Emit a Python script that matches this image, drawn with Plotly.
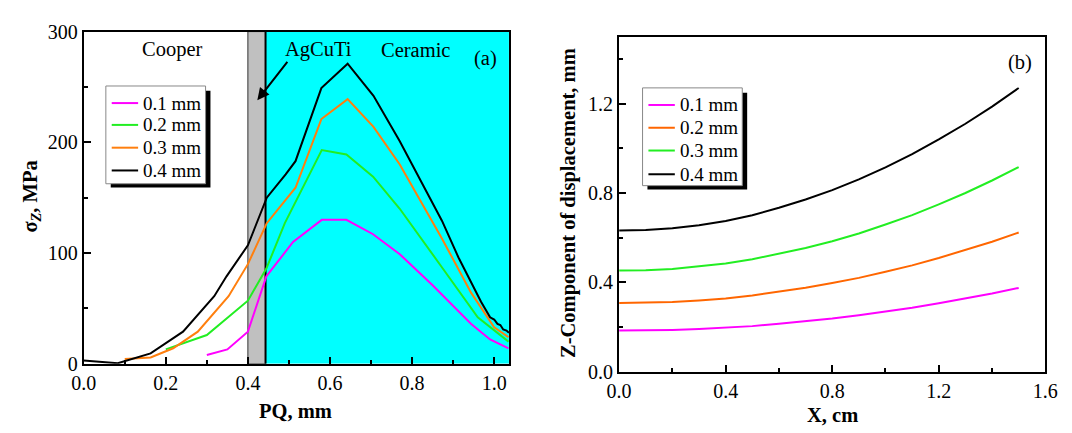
import plotly.graph_objects as go

# ---------------- Panel (a): sigma_Z vs PQ ----------------
a_labels = ["0.1 mm", "0.2 mm", "0.3 mm", "0.4 mm"]
a_colors = ["#FF00FF", "#22EE22", "#FF7F0E", "#000000"]

a_x_01 = [0.30, 0.35, 0.40, 0.445, 0.51, 0.58, 0.64, 0.705, 0.77, 0.85, 0.944, 0.99, 1.035]
a_y_01 = [8, 13, 29, 79, 110, 130, 130, 117, 99, 71, 36, 22, 14]

a_x_02 = [0.20, 0.30, 0.40, 0.445, 0.49, 0.58, 0.64, 0.705, 0.77, 0.81, 0.873, 0.96, 1.035]
a_y_02 = [13, 26, 57, 86, 127, 193, 189, 169, 140, 119, 87, 42, 20]

a_x_03 = [0.10, 0.163, 0.218, 0.278, 0.353, 0.40, 0.446, 0.516, 0.579, 0.643, 0.706, 0.77, 0.873, 0.944, 1.0, 1.035]
a_y_03 = [4.3, 5.7, 14, 29, 61, 90, 127, 159, 221, 239, 214, 180, 113, 64, 33, 24]

a_x_04 = [0.0, 0.083, 0.163, 0.242, 0.318, 0.348, 0.40, 0.446, 0.492, 0.516, 0.579, 0.643, 0.706, 0.77, 0.873,
          0.913, 0.968, 0.98, 0.99, 1.0, 1.008, 1.015, 1.022, 1.03, 1.036]
a_y_04 = [3, 0.5, 9.4, 29, 61, 79, 107, 150, 171, 183, 249, 271, 242, 201, 129,
          96, 56, 48, 42, 40, 36, 35, 31, 30, 28]

a_xs = [a_x_01, a_x_02, a_x_03, a_x_04]
a_ys = [a_y_01, a_y_02, a_y_03, a_y_04]

# ---------------- Panel (b): Z displacement vs X ----------------
b_labels = ["0.1 mm", "0.2 mm", "0.3 mm", "0.4 mm"]
b_colors = ["#FF00FF", "#FF6600", "#22EE22", "#000000"]
b_x = [0.0, 0.1, 0.2, 0.3, 0.4, 0.5, 0.6, 0.7, 0.8, 0.9, 1.0, 1.1, 1.2, 1.3, 1.4, 1.5]
b_y_01 = [0.184, 0.185, 0.187, 0.191, 0.197, 0.204, 0.215, 0.226, 0.238, 0.253, 0.269, 0.286, 0.306, 0.327, 0.350, 0.375]
b_y_02 = [0.307, 0.308, 0.312, 0.319, 0.328, 0.341, 0.358, 0.376, 0.397, 0.420, 0.447, 0.476, 0.509, 0.544, 0.582, 0.623]
b_y_03 = [0.453, 0.454, 0.460, 0.471, 0.484, 0.503, 0.527, 0.554, 0.584, 0.619, 0.659, 0.701, 0.749, 0.800, 0.856, 0.916]
b_y_04 = [0.632, 0.634, 0.642, 0.656, 0.675, 0.700, 0.734, 0.771, 0.813, 0.861, 0.915, 0.974, 1.040, 1.110, 1.187, 1.270]
b_ys = [b_y_01, b_y_02, b_y_03, b_y_04]

FONT = "Liberation Serif, Times New Roman, serif"
W, H = 1072, 433


def px(x):
    return x / W


def py(y):
    return 1 - y / H


fig = go.Figure()

for lab, col, xs, ys in zip(a_labels, a_colors, a_xs, a_ys):
    fig.add_trace(go.Scatter(x=xs, y=ys, mode="lines", name=lab, showlegend=False,
                             line=dict(color=col, width=2), xaxis="x", yaxis="y"))

for lab, col, ys in zip(b_labels, b_colors, b_ys):
    fig.add_trace(go.Scatter(x=b_x, y=ys, mode="lines", name=lab, showlegend=False,
                             line=dict(color=col, width=2), xaxis="x2", yaxis="y2"))

axis_common = dict(showline=True, linewidth=2, linecolor="black", mirror=True,
                   showgrid=False, zeroline=False, ticks="inside", ticklen=7,
                   tickwidth=1.5, tickcolor="black",
                   tickfont=dict(family=FONT, size=20, color="black"))
minor_common = dict(ticks="inside", ticklen=4, tickcolor="black", tickwidth=1.5)

fig.update_layout(
    width=W, height=H,
    margin=dict(l=0, r=0, t=0, b=0),
    paper_bgcolor="white", plot_bgcolor="white",
    font=dict(family=FONT, size=20, color="black"),
    showlegend=False,
    xaxis=dict(domain=[0.0684, 0.4742], range=[0, 1.036], dtick=0.2, tick0=0,
               tickformat=".1f", anchor="y", minor=dict(dtick=0.1, **minor_common), **axis_common),
    yaxis=dict(domain=[0.1416, 0.9499], range=[0, 300], dtick=100, tick0=0, anchor="x",
               minor=dict(dtick=50, **minor_common), **axis_common),
    xaxis2=dict(domain=[0.5793, 0.9860], range=[0, 1.6], dtick=0.4, tick0=0,
                tickformat=".1f", anchor="y2", minor=dict(dtick=0.2, **minor_common), **axis_common),
    yaxis2=dict(domain=[0.1224, 0.9376], range=[0, 1.5], dtick=0.4, tick0=0,
                tickformat=".1f", anchor="x2", minor=dict(dtick=0.2, **minor_common), **axis_common),
)

# region backgrounds in panel (a)
fig.add_shape(type="rect", xref="x", yref="y", x0=0.443, x1=1.036, y0=0, y1=300,
              fillcolor="#00FFFF", line=dict(width=0), layer="below")
fig.add_shape(type="rect", xref="x", yref="y", x0=0.40, x1=0.443, y0=0, y1=300,
              fillcolor="#C0C0C0", line=dict(color="#333333", width=1), layer="below")
fig.add_shape(type="line", xref="x", yref="y", x0=0.443, x1=0.443, y0=0, y1=300,
              line=dict(color="black", width=2), layer="below")


# legends (box with drop shadow, line samples, labels)
def draw_legend(left, top, width, height, rows, labels, colors):
    fig.add_shape(type="rect", xref="paper", yref="paper",
                  x0=px(left + 5), x1=px(left + width + 5), y0=py(top + height + 4), y1=py(top + 5),
                  fillcolor="black", line=dict(width=0), layer="above")
    fig.add_shape(type="rect", xref="paper", yref="paper",
                  x0=px(left), x1=px(left + width), y0=py(top + height), y1=py(top),
                  fillcolor="white", line=dict(color="#888888", width=1), layer="above")
    for r, lab, col in zip(rows, labels, colors):
        fig.add_shape(type="line", xref="paper", yref="paper",
                      x0=px(left + 6), x1=px(left + 33), y0=py(top + r), y1=py(top + r),
                      line=dict(color=col, width=2), layer="above")
        fig.add_annotation(x=px(left + 36), y=py(top + r), xref="paper", yref="paper",
                           xanchor="left", yanchor="middle", text=lab, showarrow=False,
                           font=dict(family=FONT, size=19, color="black"))


draw_legend(96, 79, 102, 103, [18, 41, 65, 89], a_labels, a_colors)
draw_legend(645, 81, 102, 103, [18, 42, 66, 91], b_labels, b_colors)

ann_font = dict(family=FONT, size=20.5, color="black")
fig.add_annotation(x=0.217, y=283.7, xref="x", yref="y", text="Cooper", showarrow=False, font=ann_font)
fig.add_annotation(x=0.573, y=283.7, xref="x", yref="y", text="AgCuTi", showarrow=False, font=ann_font)
fig.add_annotation(x=0.808, y=283.7, xref="x", yref="y", text="Ceramic", showarrow=False, font=ann_font)
fig.add_annotation(x=0.98, y=275.7, xref="x", yref="y", text="(a)", showarrow=False, font=ann_font)
fig.add_annotation(x=0.423, y=238, xref="x", yref="y", ax=0.499, ay=274, axref="x", ayref="y",
                   text="", showarrow=True, arrowhead=2, arrowsize=1.2, arrowwidth=2, arrowcolor="black")
fig.add_annotation(x=1.505, y=1.386, xref="x2", yref="y2", text="(b)", showarrow=False, font=ann_font)

# axis titles
title_font = dict(family=FONT, size=20.5, color="black")
fig.add_annotation(x=px(290), y=py(421), xref="paper", yref="paper", xanchor="center", yanchor="middle",
                   text="<b>PQ, mm</b>", showarrow=False, font=title_font)
fig.add_annotation(x=px(19), y=py(196), xref="paper", yref="paper", xanchor="center", yanchor="middle",
                   textangle=-90, text="<b>σ<sub><i>Z</i></sub>, MPa</b>", showarrow=False, font=title_font)
fig.add_annotation(x=px(839), y=py(426), xref="paper", yref="paper", xanchor="center", yanchor="middle",
                   text="<b>X, cm</b>", showarrow=False, font=title_font)
fig.add_annotation(x=px(569), y=py(202), xref="paper", yref="paper", xanchor="center", yanchor="middle",
                   textangle=-90, text="<b>Z-Component of displacement, mm</b>", showarrow=False,
                   font=title_font)

fig.write_html("out.html")
